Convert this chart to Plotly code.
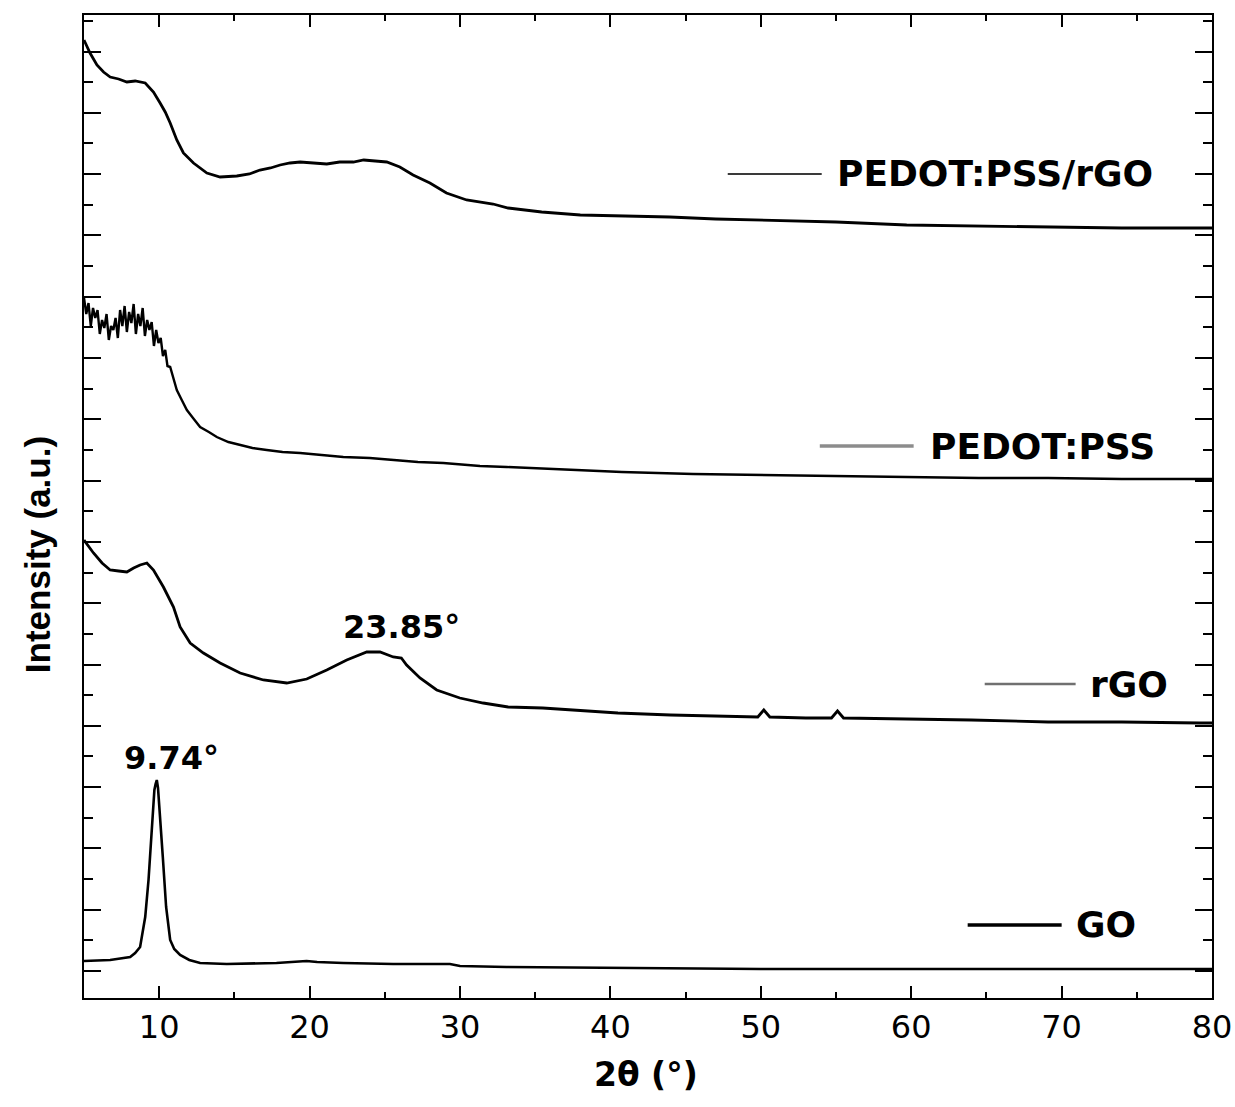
import plotly.graph_objects as go

# ---------------- data (2θ in degrees, intensity in a.u., stacked offsets) ----------------
pedot_rgo_x = [5.0, 5.4, 5.86, 6.3, 6.74, 7.3, 7.85, 8.4, 9.07, 9.62, 10.06, 10.4, 10.73, 11.17, 11.61,
               12.28, 13.17, 14.05, 15.16, 16.0, 16.7, 17.4, 18.04, 18.7, 19.37, 20.2, 21.14, 22.0,
               22.91, 23.6, 24.24, 25.13, 26.0, 26.88, 28.0, 29.1, 30.44, 31.33, 32.2, 33.2, 35.43,
               38.0, 40.5, 43.95, 47.0, 50.24, 55.0, 59.7, 64.0, 69.13, 74.0, 78.6, 80.0]
pedot_rgo_y = [958, 945, 933, 926, 921, 919, 916, 917, 915, 906, 895, 886, 875, 858, 845,
               835, 825, 821, 822, 824, 828, 830, 833, 835, 836, 835, 834, 836,
               836, 838, 837, 836, 831, 823, 815, 805, 798, 796, 794, 790, 786,
               783, 782, 781, 779, 778, 776, 773, 772, 771, 770, 770, 770]

pedot_x = [5.0, 5.15, 5.3, 5.45, 5.6, 5.75, 5.9, 6.05, 6.2, 6.35, 6.5, 6.65, 6.8, 6.95, 7.1, 7.25,
           7.4, 7.55, 7.7, 7.85, 8.0, 8.15, 8.3, 8.45, 8.6, 8.75, 8.9, 9.05, 9.2, 9.35, 9.5, 9.65,
           9.8, 9.95, 10.1, 10.25, 10.4, 10.55, 10.73, 11.17, 11.5, 11.84, 12.3, 12.72, 13.3,
           13.83, 14.6, 15.38, 16.2, 17.15, 18.2, 19.37, 20.8, 22.24, 24.0, 25.56, 27.2, 28.89,
           31.33, 33.1, 36.0, 40.76, 45.5, 50.24, 55.0, 59.7, 64.5, 69.1, 74.0, 79.2, 80.0]
pedot_y = [700, 684, 695, 672, 690, 680, 688, 664, 678, 670, 684, 658, 672, 668, 680, 660,
           688, 672, 692, 666, 686, 675, 694, 664, 684, 672, 690, 662, 678, 668, 676, 652,
           668, 655, 660, 642, 648, 632, 631, 608, 598, 588, 579, 571, 566,
           561, 556, 553, 550, 548, 546, 545, 543, 541, 540, 538, 536, 535,
           532, 531, 529, 526, 524, 523, 522, 521, 520, 520, 519, 519, 519]

rgo_x = [5.0, 5.3, 5.63, 6.2, 6.74, 7.3, 7.85, 8.3, 8.73, 9.18, 9.62, 10.28, 10.95, 11.39, 12.06,
         12.94, 14.05, 15.38, 16.93, 18.48, 19.81, 21.14, 22.47, 23.8, 24.68, 25.56, 26.1, 26.45,
         27.34, 28.45, 29.99, 31.54, 33.2, 35.5, 37.6, 40.5, 44.0, 47.0, 49.8, 50.2, 50.6, 53.0,
         54.7, 55.1, 55.5, 59.7, 64.0, 69.1, 74.0, 79.2, 80.0]
rgo_y = [458, 452, 445, 435, 428, 427, 426, 430, 433, 435, 428, 411, 391, 371, 355,
         345, 335, 325, 318, 315, 319, 328, 338, 346, 346, 341, 340, 333,
         320, 308, 300, 295, 291, 290, 288, 285, 283, 282, 281, 288, 281, 280,
         280, 287, 280, 279, 278, 276, 276, 275, 275]

go_x = [5.0, 6.74, 8.07, 8.4, 8.73, 9.07, 9.29, 9.51, 9.68, 9.76, 9.84, 9.92, 10.02, 10.24, 10.46,
        10.73, 11.0, 11.39, 12.0, 12.72, 14.49, 17.8, 19.8, 20.5, 22.24, 25.56, 29.33, 30.0, 33.1,
        40.0, 50.0, 60.0, 70.0, 80.0]
go_y = [37, 38, 41, 45, 51, 81, 118, 165, 208, 214, 218, 210, 191, 141, 91,
        58, 49, 43, 38, 35, 34, 35, 37, 36, 35, 34, 34, 32, 31,
        30, 29, 29, 29, 29]

series_names = ["PEDOT:PSS/rGO", "PEDOT:PSS", "rGO", "GO"]
series_x = [pedot_rgo_x, pedot_x, rgo_x, go_x]
series_y = [pedot_rgo_y, pedot_y, rgo_y, go_y]

peak_labels = ["23.85°", "9.74°"]
peak_label_x = [26.14, 10.79]
peak_label_y = [371, 240]

x_tick_vals = [10, 20, 30, 40, 50, 60, 70, 80]
x_tick_text = ["10", "20", "30", "40", "50", "60", "70", "80"]

# ---------------- styling ----------------
curve_widths = [2.8, 2.4, 2.8, 2.6]
legend_line_colors = ["#3a3a3a", "#8c8c8c", "#707070", "#000000"]
legend_line_widths = [2, 3.5, 2.5, 3.5]
# paper positions of each hand-placed legend entry: (line x0, line x1, y, text x)
legend_pos = [(0.5707, 0.6540, 0.8383, 0.6655),
              (0.6523, 0.7355, 0.5615, 0.7480),
              (0.7985, 0.8791, 0.3194, 0.8897),
              (0.7834, 0.8667, 0.0743, 0.8773)]

FONT = "DejaVu Sans, Liberation Sans, Arial, sans-serif"

fig = go.Figure()
for name, xs, ys, w in zip(series_names, series_x, series_y, curve_widths):
    fig.add_trace(go.Scatter(x=xs, y=ys, mode="lines", name=name,
                             line=dict(color="black", width=w), showlegend=False))

for (x0, x1, yy, tx), name, col, lw in zip(legend_pos, series_names, legend_line_colors, legend_line_widths):
    fig.add_shape(type="line", xref="paper", yref="paper", x0=x0, x1=x1, y0=yy, y1=yy,
                  line=dict(color=col, width=lw))
    fig.add_annotation(xref="paper", yref="paper", x=tx, y=yy, text="<b>%s</b>" % name,
                       showarrow=False, xanchor="left", yanchor="middle",
                       font=dict(family=FONT, size=36, color="black"))

for t, px, py in zip(peak_labels, peak_label_x, peak_label_y):
    fig.add_annotation(x=px, y=py, text="<b>%s</b>" % t, showarrow=False,
                       xanchor="center", yanchor="middle",
                       font=dict(family=FONT, size=32, color="black"))

# axis titles
fig.add_annotation(xref="paper", yref="paper", x=-0.0406, y=0.4507, text="<b>Intensity (a.u.)</b>",
                   textangle=-90, showarrow=False, xanchor="center", yanchor="middle",
                   font=dict(family="Liberation Sans, Arial, sans-serif", size=35, color="black"))
fig.add_annotation(xref="paper", yref="paper", x=0.498, y=-0.0783, text="<b>2θ (°)</b>",
                   showarrow=False, xanchor="center", yanchor="middle",
                   font=dict(family=FONT, size=33, color="black"))

fig.update_layout(
    width=1235, height=1107,
    margin=dict(l=84, r=23, t=15, b=109, autoexpand=False),
    paper_bgcolor="white", plot_bgcolor="white",
    showlegend=False,
)
fig.update_xaxes(range=[5, 80], showgrid=False, zeroline=False, automargin=False,
                 showline=True, linecolor="black", linewidth=2, mirror="ticks",
                 ticks="inside", ticklen=12, tickwidth=2, tickcolor="black",
                 tickvals=x_tick_vals, ticktext=x_tick_text,
                 tickfont=dict(family=FONT, size=32, color="black"),
                 tickprefix="<b>", ticksuffix="</b>",
                 minor=dict(tick0=5, dtick=10, ticks="inside", ticklen=6, tickwidth=2, tickcolor="black"))
fig.update_yaxes(range=[0, 983], showgrid=False, zeroline=False, automargin=False,
                 showline=True, linecolor="black", linewidth=2, mirror="ticks",
                 ticks="inside", ticklen=17, tickwidth=2, tickcolor="black",
                 tick0=27, dtick=61.3, showticklabels=False,
                 minor=dict(tick0=57.65, dtick=61.3, ticks="inside", ticklen=9, tickwidth=2, tickcolor="black"))

fig.write_html("out.html")
